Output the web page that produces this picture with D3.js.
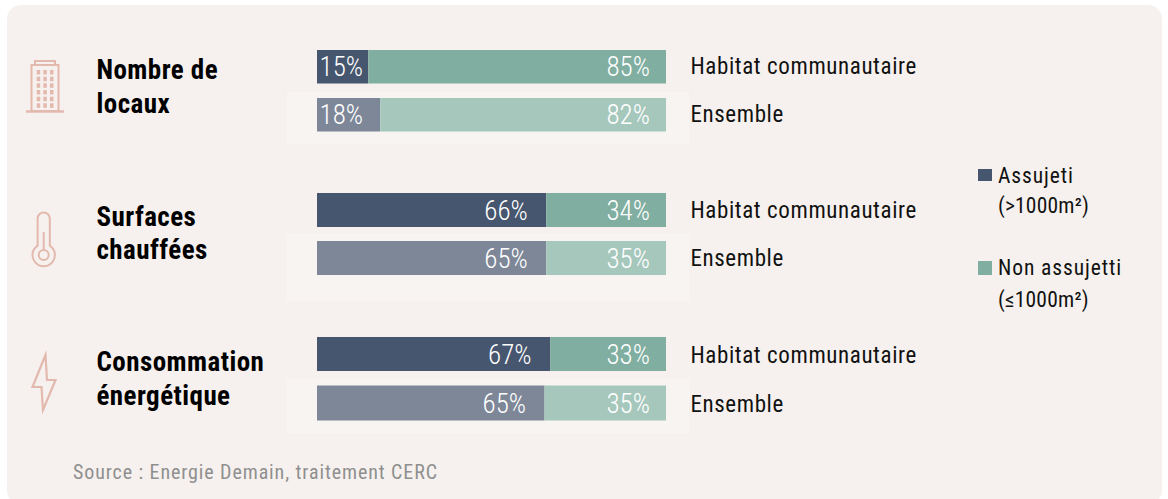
<!DOCTYPE html>
<html><head><meta charset="utf-8">
<script src="https://cdn.jsdelivr.net/npm/d3@7/dist/d3.min.js"></script>
<style>html,body{margin:0;padding:0;background:#fff}svg{display:block}
text{font-family:"Liberation Sans Narrow","Roboto Condensed","Liberation Sans",sans-serif}</style>
</head><body><script>
const groups = [["Nombre de","locaux"],["Surfaces","chauffées"],["Consommation","énergétique"]];
const rowNames = ["Habitat communautaire","Ensemble"];
const assujeti = [[14.7,18.1],[65.7,65.7],[66.8,65.2]];
const labelsA = [["15%","18%"],["66%","65%"],["67%","65%"]];
const labelsB = [["85%","82%"],["34%","35%"],["33%","35%"]];
const W=1168,H=499;
const svg=d3.select("body").append("svg").attr("width",W).attr("height",H);
svg.append("rect").attr("x",7).attr("y",5).attr("width",1155).attr("height",499).attr("rx",14).attr("fill","#f6f1ee");
const x=d3.scaleLinear().domain([0,100]).range([317,666]);
const rowTop=[[50,98],[193,241],[337,385.5]];
const barH=[[33.5,33.5],[34,34],[34,35]];
const halo=[[92,52],[233,68],[379,54]];
const rowDy=[7,8,9];
const colA=["#46566e","#7d8798"], colB=["#80aea0","#a6c7bc"];
groups.forEach((g,i)=>{
  svg.append("rect").attr("x",287).attr("y",halo[i][0]).attr("width",402).attr("height",halo[i][1]).attr("fill","#f8f4f1");
});
groups.forEach((g,i)=>{
  const tg=[[79,113],[226,259],[371,405]][i];
  g.forEach((t,k)=>svg.append("text").attr("x",96.5).attr("y",tg[k]).attr("font-size",27).attr("font-weight",700).attr("letter-spacing",0.45).attr("fill","#000").text(t));
  rowNames.forEach((r,j)=>{
    const y=rowTop[i][j],h=barH[i][j],v=assujeti[i][j];
    svg.append("rect").attr("x",x(0)).attr("y",y).attr("width",x(v)-x(0)).attr("height",h).attr("fill",colA[j]);
    svg.append("rect").attr("x",x(v)).attr("y",y).attr("width",x(100)-x(v)).attr("height",h).attr("fill",colB[j]);
    const by=y+h/2+9.5;
    const small=v<30;
    svg.append("text").attr("x",small?x(0)+2.5:x(v)-18.5).attr("y",by).attr("text-anchor",small?"start":"end").attr("font-size",27).attr("font-weight",300).attr("fill","#fff").text(labelsA[i][j]);
    svg.append("text").attr("x",x(100)-16).attr("y",by).attr("text-anchor","end").attr("font-size",27).attr("font-weight",300).attr("fill","#fff").text(labelsB[i][j]);
    svg.append("text").attr("x",690.5).attr("y",y+h/2+rowDy[i]).attr("font-size",23).attr("letter-spacing",0.6).attr("fill","#111").text(r);
  });
});
// legend
const leg=[["#46566e","Assujeti","(>1000m²)",169,12],["#80aea0","Non assujetti","(≤1000m²)",261,14]];
leg.forEach((l,n)=>{
  svg.append("rect").attr("x",978).attr("y",l[3]).attr("width",14).attr("height",l[4]).attr("fill",l[0]);
  svg.append("text").attr("x",998).attr("y",n?275:183).attr("font-size",21.5).attr("letter-spacing",0.9).attr("fill","#111").text(l[1]);
  svg.append("text").attr("x",998).attr("y",n?306.5:213).attr("font-size",21.5).attr("letter-spacing",0.2).attr("fill","#111").text(l[2]);
});
svg.append("text").attr("x",73).attr("y",479).attr("font-size",20).attr("letter-spacing",0.9).attr("fill","#8f8f8f").text("Source : Energie Demain, traitement CERC");
// icons
const ic=svg.append("g").attr("fill","none").attr("stroke","#e3b9ae").attr("stroke-width",2);
ic.append("rect").attr("x",31.5).attr("y",65).attr("width",27).attr("height",46);
ic.append("rect").attr("x",35).attr("y",61).attr("width",20).attr("height",4);
ic.append("line").attr("x1",26).attr("x2",64).attr("y1",111.5).attr("y2",111.5).attr("stroke-width",2.5);
const wx=[36.7,43.3,50],wy=[70,76.7,83.3,90,96.7,103.3];
wx.forEach(a=>wy.forEach(b=>ic.append("rect").attr("x",a).attr("y",b).attr("width",3.5).attr("height",4.5).attr("fill","#e3b9ae").attr("stroke","none")));
ic.append("path").attr("d","M37.6,245.6 V218.5 a6.1,6.1 0 0 1 12.2,0 V245.6 A11.2,11.2 0 1 1 37.6,245.6 Z");
ic.append("circle").attr("cx",43.7).attr("cy",255).attr("r",5);
ic.append("line").attr("x1",43.7).attr("x2",43.7).attr("y1",232).attr("y2",250);
ic.append("path").attr("d","M45.5,355 L32.5,387 H41.5 L43,410 L55.5,380 H47 Z").attr("stroke-width",2.2).attr("stroke-miterlimit",10);
</script></body></html>
